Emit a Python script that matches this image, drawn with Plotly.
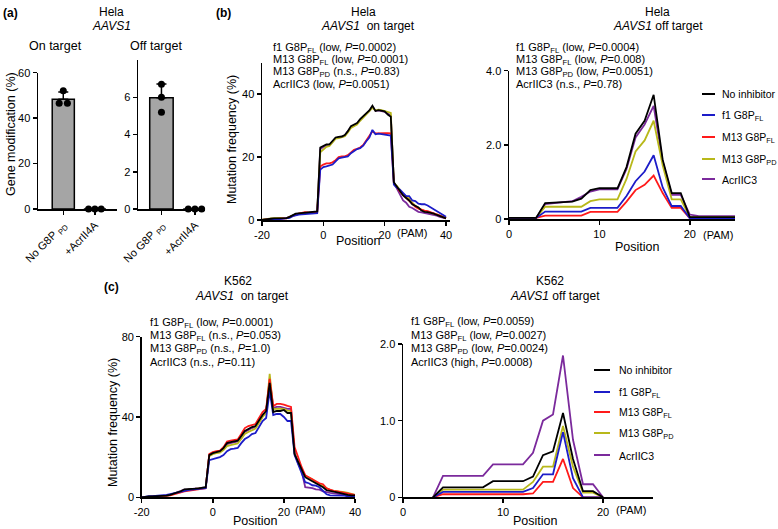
import numpy as np
import plotly.graph_objects as go

W, H = 778, 529
FONT = "Liberation Sans, Arial, sans-serif"

# ---------------- data: panel (a) ----------------
bar_categories = ["No G8P <sub>PD</sub>", "+AcrII4A"]
on_target_reps = [[52.0, 46.5, 46.5], [0.0, 0.0, 0.0]]
off_target_reps = [[6.7, 6.0, 5.2], [0.0, 0.0, 0.0]]

# ---------------- data: series ----------------
series_names = ["No inhibitor", "f1 G8P<sub>FL</sub>", "M13 G8P<sub>FL</sub>",
                "M13 G8P<sub>PD</sub>", "AcrIIC3"]
series_colors = ["#000000", "#1c1cc8", "#ff1a1a", "#b8b81a", "#7b2a9c"]

pos_on = list(range(-20, 41))
pos_hela_off = list(range(0, 26))
pos_k562_off = list(range(3, 21))

# Hela on target
hela_on_none = [0.0, 0.2, 0.3, 0.4, 0.5, 0.5, 0.5, 0.5, 0.6, 1.0, 1.6, 2.0, 2.1, 2.2, 2.3, 2.4, 2.5, 2.5, 2.7,
                23.0, 23.6, 24.0, 24.0, 25.0, 26.2, 26.4, 26.5, 27.0, 28.2, 29.8, 30.2, 30.8, 32.0, 33.0, 34.0,
                34.8, 36.3, 34.6, 34.9, 34.7, 34.5, 33.5, 32.8, 12.0, 10.5, 9.2, 7.8, 7.0, 6.2, 5.0, 4.6, 4.0,
                3.0, 2.6, 2.5, 2.3, 2.0, 1.6, 1.2, 0.8, 0.5]
hela_on_f1fl = [0.0, 0.1, 0.1, 0.2, 0.2, 0.2, 0.3, 0.3, 0.4, 0.7, 1.2, 1.5, 1.7, 1.8, 1.9, 2.0, 2.1, 2.1, 2.2,
                16.0, 16.8, 17.0, 17.3, 17.6, 18.6, 19.6, 19.8, 19.9, 20.2, 21.2, 22.0, 22.5, 22.8, 23.6, 25.0,
                26.2, 28.6, 27.2, 27.4, 27.3, 27.1, 27.0, 26.8, 11.2, 10.2, 9.6, 8.6, 7.6, 7.6, 6.2, 6.0, 5.2,
                5.0, 5.0, 4.6, 4.0, 3.2, 2.6, 2.0, 1.5, 1.0]
hela_on_m13fl = [0.0, 0.1, 0.2, 0.2, 0.3, 0.3, 0.4, 0.5, 0.5, 0.9, 1.4, 1.8, 2.0, 2.3, 2.5, 2.4, 2.3, 2.3, 2.5,
                 17.0, 17.6, 18.0, 18.0, 18.3, 19.0, 20.0, 20.2, 20.2, 20.6, 21.6, 22.3, 22.6, 23.0, 23.8, 25.2,
                 26.4, 28.2, 27.5, 27.6, 27.6, 27.6, 27.6, 27.5, 11.6, 10.2, 9.0, 8.0, 7.0, 6.0, 5.0, 4.2, 3.6,
                 3.2, 3.0, 2.8, 2.5, 2.2, 1.8, 1.4, 1.0, 0.6]
hela_on_m13pd = [0.1, 0.3, 0.4, 0.5, 0.6, 0.7, 0.7, 0.6, 0.6, 0.9, 1.5, 1.9, 2.0, 2.1, 2.2, 2.3, 2.3, 2.4, 2.6,
                 21.5, 22.5, 23.2, 23.5, 24.5, 25.8, 26.0, 26.2, 26.6, 27.8, 29.2, 29.8, 30.3, 31.5, 32.5, 33.5,
                 34.5, 35.6, 34.8, 35.0, 34.9, 34.6, 34.2, 34.0, 11.5, 10.8, 9.5, 8.0, 7.5, 6.8, 5.5, 4.5, 4.0,
                 3.2, 2.8, 2.6, 2.4, 2.0, 1.8, 1.4, 1.0, 0.6]
hela_on_acr = [0.0, 0.2, 0.3, 0.4, 0.4, 0.5, 0.5, 0.5, 0.6, 1.0, 1.5, 1.9, 2.0, 2.1, 2.2, 2.3, 2.4, 2.4, 2.6,
               22.5, 23.2, 23.6, 23.8, 24.8, 26.0, 26.2, 26.3, 26.8, 28.0, 29.5, 30.0, 30.6, 31.8, 32.8, 33.8,
               34.6, 36.0, 34.7, 34.8, 34.6, 34.3, 33.8, 33.2, 11.8, 10.0, 8.5, 6.2, 5.5, 4.2, 3.8, 3.2, 2.6,
               2.4, 2.2, 2.0, 2.0, 1.8, 1.4, 1.0, 0.8, 0.5]

# Hela off target
hela_off_none = [0.03, 0.03, 0.03, 0.03, 0.43, 0.45, 0.45, 0.47, 0.55, 0.78, 0.83, 0.83, 0.83, 1.40, 2.30,
                 2.65, 3.35, 1.60, 0.70, 0.70, 0.05, 0.05, 0.05, 0.05, 0.05, 0.05]
hela_off_f1fl = [0.03, 0.03, 0.03, 0.03, 0.20, 0.20, 0.20, 0.20, 0.20, 0.30, 0.30, 0.30, 0.30, 0.62, 1.02,
                 1.28, 1.72, 0.85, 0.35, 0.35, 0.02, 0.02, 0.02, 0.02, 0.02, 0.02]
hela_off_m13fl = [0.03, 0.03, 0.03, 0.03, 0.09, 0.09, 0.09, 0.09, 0.09, 0.19, 0.19, 0.19, 0.19, 0.47, 0.78,
                  0.92, 1.17, 0.70, 0.30, 0.30, 0.02, 0.02, 0.02, 0.02, 0.02, 0.02]
hela_off_m13pd = [0.03, 0.03, 0.03, 0.03, 0.33, 0.33, 0.33, 0.33, 0.33, 0.48, 0.53, 0.53, 0.53, 1.08, 1.82,
                  2.12, 2.65, 1.45, 0.53, 0.53, 0.05, 0.05, 0.05, 0.05, 0.05, 0.05]
hela_off_acr = [0.03, 0.03, 0.03, 0.03, 0.40, 0.42, 0.45, 0.48, 0.60, 0.74, 0.80, 0.80, 0.80, 1.35, 2.20,
                2.55, 3.05, 1.55, 0.65, 0.65, 0.12, 0.08, 0.08, 0.08, 0.08, 0.08]

# K562 on target
k562_on_none = [0.0, 0.3, 0.5, 0.5, 0.5, 0.6, 0.6, 0.8, 1.2, 1.8, 2.4, 3.0, 4.0, 4.0, 4.2, 4.3, 4.5, 4.6, 5.0,
                21.0, 22.0, 22.5, 23.0, 24.5, 27.0, 27.5, 28.0, 28.2, 30.5, 33.0, 34.0, 35.0, 35.5, 38.5, 41.0,
                43.0, 57.0, 42.5, 43.0, 43.0, 43.5, 42.0, 42.0, 21.5, 17.5, 14.0, 10.0, 9.0, 8.0, 7.0, 6.0, 5.0,
                3.5, 3.0, 2.8, 2.5, 2.0, 1.5, 1.2, 1.0, 1.0]
k562_on_f1fl = [0.0, 0.4, 0.6, 0.6, 0.7, 0.8, 1.0, 1.2, 1.6, 2.0, 2.4, 2.8, 3.4, 3.6, 3.8, 4.0, 4.2, 4.3, 4.6,
                18.5, 19.2, 19.5, 20.0, 21.0, 23.0, 24.0, 24.2, 24.6, 27.0, 29.0, 30.0, 31.5, 32.0, 35.0, 38.0,
                39.5, 53.0, 41.0, 41.5, 41.5, 40.0, 38.0, 38.0, 21.0, 16.0, 12.0, 7.5, 7.0, 6.0, 5.8, 5.0, 3.0,
                1.5, 1.0, 1.0, 1.0, 1.0, 0.8, 0.5, 0.5, 0.5]
k562_on_m13fl = [0.0, 0.1, 0.2, 0.3, 0.3, 0.5, 0.5, 0.7, 1.0, 1.5, 2.0, 2.6, 3.0, 3.2, 3.4, 3.6, 3.8, 4.0, 4.5,
                 21.5, 22.5, 23.0, 23.2, 25.0, 27.8, 28.2, 28.6, 28.8, 31.5, 34.5, 35.5, 36.0, 36.5, 39.5, 42.5,
                 44.0, 59.0, 45.5, 46.5, 46.5, 46.2, 45.5, 45.0, 25.0, 19.5, 15.0, 11.0, 10.0, 9.0, 8.0, 7.0, 6.5,
                 4.5, 3.8, 3.2, 3.0, 2.6, 2.2, 1.8, 1.5, 1.2]
k562_on_m13pd = [0.0, 0.2, 0.4, 0.5, 0.5, 0.6, 0.6, 0.8, 1.1, 1.6, 2.2, 2.8, 3.6, 3.8, 4.0, 4.1, 4.3, 4.4, 4.8,
                 20.5, 21.5, 22.0, 22.3, 23.5, 25.5, 26.0, 26.3, 26.8, 29.0, 31.5, 32.5, 33.5, 34.2, 37.0, 40.0,
                 42.0, 61.5, 44.0, 44.2, 44.2, 44.0, 43.2, 43.0, 22.0, 17.0, 14.0, 10.5, 9.8, 9.0, 7.5, 6.5, 5.2,
                 4.2, 3.6, 3.2, 3.0, 3.0, 2.6, 2.2, 1.6, 1.2]
k562_on_acr = [0.0, 0.2, 0.4, 0.5, 0.5, 0.6, 0.6, 0.8, 1.2, 1.8, 2.4, 3.0, 3.8, 3.9, 4.1, 4.2, 4.4, 4.5, 4.9,
               21.0, 22.0, 22.4, 22.8, 24.0, 26.5, 27.0, 27.4, 27.8, 30.0, 32.5, 33.5, 34.5, 35.0, 38.0, 40.5,
               42.5, 58.5, 44.5, 45.0, 45.0, 44.5, 44.0, 44.0, 22.0, 17.0, 13.0, 5.0, 4.8, 4.6, 4.0, 3.8, 3.0,
               2.5, 2.2, 2.0, 1.8, 1.5, 1.2, 1.0, 0.8, 0.6]

# K562 off target
k562_off_none = [0.0, 0.13, 0.13, 0.13, 0.13, 0.13, 0.21, 0.21, 0.21, 0.21, 0.27, 0.55, 0.60, 1.10, 0.50,
                 0.08, 0.08, 0.0]
k562_off_f1fl = [0.0, 0.07, 0.07, 0.07, 0.07, 0.07, 0.07, 0.07, 0.07, 0.07, 0.12, 0.30, 0.30, 0.85, 0.25,
                 0.0, 0.0, 0.0]
k562_off_m13fl = [0.0, 0.04, 0.04, 0.04, 0.04, 0.04, 0.04, 0.04, 0.04, 0.04, 0.05, 0.20, 0.20, 0.50, 0.12,
                  0.0, 0.0, 0.0]
k562_off_m13pd = [0.0, 0.10, 0.10, 0.10, 0.10, 0.10, 0.10, 0.10, 0.10, 0.10, 0.20, 0.40, 0.40, 0.93, 0.40,
                  0.06, 0.06, 0.0]
k562_off_acr = [0.0, 0.28, 0.28, 0.28, 0.28, 0.28, 0.43, 0.43, 0.43, 0.43, 0.58, 1.00, 1.08, 1.85, 0.75,
                0.17, 0.17, 0.0]

# p-value annotation texts
p_hela_on = ["f1 G8P<sub>FL</sub> (low, <i>P</i>=0.0002)", "M13 G8P<sub>FL</sub> (low, <i>P</i>=0.0001)",
             "M13 G8P<sub>PD</sub> (n.s., <i>P</i>=0.83)", "AcrIIC3 (low, <i>P</i>=0.0051)"]
p_hela_off = ["f1 G8P<sub>FL</sub> (low, <i>P</i>=0.0004)", "M13 G8P<sub>FL</sub> (low, <i>P</i>=0.008)",
              "M13 G8P<sub>PD</sub> (low, <i>P</i>=0.0051)", "AcrIIC3 (n.s., <i>P</i>=0.78)"]
p_k562_on = ["f1 G8P<sub>FL</sub> (low, <i>P</i>=0.0001)", "M13 G8P<sub>FL</sub> (n.s., <i>P</i>=0.053)",
             "M13 G8P<sub>PD</sub> (n.s., <i>P</i>=1.0)", "AcrIIC3 (n.s., <i>P</i>=0.11)"]
p_k562_off = ["f1 G8P<sub>FL</sub> (low, <i>P</i>=0.0059)", "M13 G8P<sub>FL</sub> (low, <i>P</i>=0.0027)",
              "M13 G8P<sub>PD</sub> (low, <i>P</i>=0.0024)", "AcrIIC3 (high, <i>P</i>=0.0008)"]

# ---------------- figure ----------------
fig = go.Figure()


def X(px):
    return px / W


def Y(py):
    return 1 - py / H


annotations = []
shapes = []


def txt(x, y, s, size=11, xanchor="left", angle=0, bold=False):
    if bold:
        s = "<b>" + s + "</b>"
    annotations.append(dict(x=X(x), y=Y(y), xref="paper", yref="paper", text=s, showarrow=False,
                            xanchor=xanchor, yanchor="middle", textangle=angle, borderpad=0,
                            font=dict(size=size, family=FONT, color="black")))


axis_common = dict(showline=True, linecolor="black", linewidth=1.5, ticks="outside", ticklen=4,
                   tickwidth=1.5, tickcolor="black", showgrid=False, zeroline=False, automargin=False,
                   tickfont=dict(size=11, family=FONT, color="black"), fixedrange=True)

# panel (a) bars
rep_offsets_on = [[0.0, -0.13, 0.13], [-0.2, 0.0, 0.2]]
rep_offsets_off = [[0.0, 0.0, 0.0], [-0.2, 0.0, 0.2]]
for reps, offs, xa, ya in [(on_target_reps, rep_offsets_on, "x", "y"),
                           (off_target_reps, rep_offsets_off, "x2", "y2")]:
    arr = np.array(reps)
    means = arr.mean(axis=1)
    sds = arr.std(axis=1, ddof=1)
    fig.add_trace(go.Bar(x=[0, 1], y=means, width=0.7, xaxis=xa, yaxis=ya,
                         marker=dict(color="#a5a5a5", line=dict(color="black", width=1.5)),
                         error_y=dict(type="data", array=sds, arrayminus=[0, 0], symmetric=False,
                                      color="black", thickness=1.5, width=5),
                         showlegend=False, hoverinfo="skip"))
    dx, dy = [], []
    for i, r in enumerate(reps):
        for j, v in enumerate(r):
            dx.append(i + offs[i][j])
            dy.append(v)
    fig.add_trace(go.Scatter(x=dx, y=dy, mode="markers", xaxis=xa, yaxis=ya, cliponaxis=False,
                             marker=dict(color="black", size=7), showlegend=False, hoverinfo="skip"))

# line panels
panels = [
    ("x3", "y3", pos_on, [hela_on_none, hela_on_f1fl, hela_on_m13fl, hela_on_m13pd, hela_on_acr]),
    ("x4", "y4", pos_hela_off, [hela_off_none, hela_off_f1fl, hela_off_m13fl, hela_off_m13pd, hela_off_acr]),
    ("x5", "y5", pos_on, [k562_on_none, k562_on_f1fl, k562_on_m13fl, k562_on_m13pd, k562_on_acr]),
    ("x6", "y6", pos_k562_off, [k562_off_none, k562_off_f1fl, k562_off_m13fl, k562_off_m13pd, k562_off_acr]),
]
draw_order = [4, 3, 2, 1, 0]
for xa, ya, pos, data in panels:
    for k in draw_order:
        fig.add_trace(go.Scatter(x=pos, y=data[k], mode="lines", xaxis=xa, yaxis=ya,
                                 line=dict(color=series_colors[k], width=1.8),
                                 name=series_names[k], showlegend=False, hoverinfo="skip"))


def dom_x(a, b):
    return [X(a), X(b)]


def dom_y(top, bottom):
    return [Y(bottom), Y(top)]


layout_axes = dict(
    xaxis=dict(axis_common, domain=dom_x(38, 117), range=[-0.8, 1.7], anchor="y",
               tickvals=[0, 1], ticktext=bar_categories, tickangle=-45),
    yaxis=dict(axis_common, domain=dom_y(72.7, 209), range=[0, 60], anchor="x",
               tickvals=[0, 20, 40, 60]),
    xaxis2=dict(axis_common, domain=dom_x(138, 205), range=[-0.7, 1.3], anchor="y2",
                tickvals=[0, 1], ticktext=bar_categories, tickangle=-45),
    yaxis2=dict(axis_common, domain=dom_y(60, 209), range=[0, 8], anchor="x2",
                tickvals=[0, 2, 4, 6]),
    xaxis3=dict(axis_common, domain=dom_x(262, 450), range=[-20, 41.3], anchor="y3",
                tickvals=[-20, 0, 20, 40], ticktext=["-20", "0", "20", "40"]),
    yaxis3=dict(axis_common, domain=dom_y(62.5, 220), range=[0, 50], anchor="x3",
                tickvals=[0, 20, 40]),
    xaxis4=dict(axis_common, domain=dom_x(509, 735), range=[0, 25], anchor="y4",
                tickvals=[0, 10, 20], ticktext=["0", "10", "20"]),
    yaxis4=dict(axis_common, domain=dom_y(70.7, 219), range=[0, 4], anchor="x4",
                tickvals=[0, 2, 4], ticktext=["0", "2.0", "4.0"]),
    xaxis5=dict(axis_common, domain=dom_x(141.7, 355), range=[-20, 40], anchor="y5",
                tickvals=[-20, 0, 20, 40], ticktext=["-20", "0", "20", "40"]),
    yaxis5=dict(axis_common, domain=dom_y(336.7, 497.3), range=[0, 80], anchor="x5",
                tickvals=[0, 40, 80]),
    xaxis6=dict(axis_common, domain=dom_x(403, 653), range=[0, 25], anchor="y6",
                tickvals=[0, 10, 20], ticktext=["0", "10", "20"]),
    yaxis6=dict(axis_common, domain=dom_y(344, 497.3), range=[0, 2], anchor="x6",
                tickvals=[0, 1, 2], ticktext=["0", "1.0", "2.0"]),
)

# ---- texts ----
txt(2, 13, "(a)", 12, bold=True)
txt(111, 12, "Hela", 12, "center")
txt(111, 26, "<i>AAVS1</i>", 12, "center")
txt(55, 46, "On target", 12.5, "center")
txt(156, 46, "Off target", 12.5, "center")
txt(11, 134, "Gene modification (%)", 12.5, "center", angle=-90)

txt(215, 13, "(b)", 12, bold=True)
txt(363, 12, "Hela", 12, "center")
txt(368, 26, "<i>AAVS1</i>  on target", 12, "center")
txt(657, 12, "Hela", 12, "center")
txt(658, 26, "<i>AAVS1</i> off target", 12, "center")
txt(232, 140, "Mutation frequency (%)", 12.5, "center", angle=-90)
txt(358, 241, "Position", 12.5, "center")
txt(637, 247, "Position", 12.5, "center")

txt(103, 287, "(c)", 12, bold=True)
txt(238, 281, "K562", 12, "center")
txt(242, 296, "<i>AAVS1</i>  on target", 12, "center")
txt(550, 281, "K562", 12, "center")
txt(555, 296, "<i>AAVS1</i> off target", 12, "center")
txt(113, 423, "Mutation frequency (%)", 12.5, "center", angle=-90)
txt(255, 521, "Position", 12.5, "center")
txt(535, 521, "Position", 12.5, "center")

# p-value blocks
for lines, x0, ys in [(p_hela_on, 272, [48, 60, 72, 84]), (p_hela_off, 515, [48, 60, 72, 84]),
                      (p_k562_on, 149, [323, 336, 349, 362]), (p_k562_off, 410, [322, 336, 349, 362])]:
    for s, yy in zip(lines, ys):
        txt(x0, yy, s, 11)

# (PAM) labels next to tick 20
for xa, ypx, shift in [("x3", 233, 11), ("x4", 235, 12), ("x5", 510, 10), ("x6", 510, 12)]:
    annotations.append(dict(x=20, xref=xa, y=Y(ypx), yref="paper", text="(PAM)", showarrow=False,
                            xanchor="left", yanchor="middle", xshift=shift, borderpad=0,
                            font=dict(size=11, family=FONT, color="black")))

# manual legends
for lx0, lx1, tx, ys in [(702, 715, 721, [94, 115, 137, 159, 179]),
                         (594, 610, 618, [370, 392, 412, 433, 455])]:
    for k in range(5):
        shapes.append(dict(type="line", xref="paper", yref="paper", x0=X(lx0), x1=X(lx1),
                           y0=Y(ys[k]), y1=Y(ys[k]), line=dict(color=series_colors[k], width=2)))
        txt(tx, ys[k] + (1 if k > 0 else 0), series_names[k], 10.5)

fig.update_layout(
    width=W, height=H, margin=dict(l=0, r=0, t=0, b=0, autoexpand=False),
    paper_bgcolor="white", plot_bgcolor="white",
    font=dict(family=FONT, color="black"),
    showlegend=False, bargap=0,
    annotations=annotations, shapes=shapes,
    **layout_axes,
)

fig.write_html("out.html", config={"displayModeBar": False, "staticPlot": True},
               post_script="document.body.style.margin='0';document.body.style.overflow='hidden';")
